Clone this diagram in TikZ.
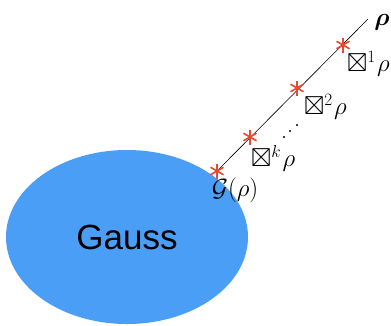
\documentclass[tikz,border=0pt]{standalone}
\usepackage{amsmath,amssymb}
\usepackage{fontspec}
\usetikzlibrary{calc}
\newfontfamily\gaussfont{Liberation Sans}
\definecolor{gblue}{RGB}{74,158,245}
\definecolor{starred}{RGB}{235,72,50}
\begin{document}
\begin{tikzpicture}[x=1pt,y=-1pt,
  star/.style={starred,line width=1.6pt},
  lab/.style={inner sep=0pt,font=\fontsize{20}{22}\selectfont},
  op/.style={inner sep=0pt,font=\fontsize{26}{28}\selectfont,anchor=west}]
\useasboundingbox (0,0) rectangle (391,325);
\fill[gblue] (127,237) ellipse [x radius=121, y radius=87];
\node[inner sep=0pt,font=\gaussfont\fontsize{35}{40}\selectfont] (gauss) at (127,237) {Gauss};
\coordinate (s0) at (217,171);
\coordinate (s1) at (250,137);
\coordinate (s2) at (297,88);
\coordinate (s3) at (343,45);
\coordinate (end) at (368,19);
\draw[line width=0.6pt] (s0) -- (end);
\foreach \s in {s0,s1,s2,s3}{
  \draw[star] ($(\s)+(0,-7.5)$) -- ($(\s)+(0,7.5)$);
  \draw[star] ($(\s)+(-6.5,-3.75)$) -- ($(\s)+(6.5,3.75)$);
  \draw[star] ($(\s)+(-6.5,3.75)$) -- ($(\s)+(6.5,-3.75)$);
}
\node[lab,font=\fontsize{34}{36}\selectfont] (rho) at (382,22) {$\boldsymbol{\rho}$};
\node[lab,font=\fontsize{29}{31}\selectfont] (G) at (235,190) {$\mathcal{G}(\rho)$};
\node[op] (o1) at (347,64) {$\boxtimes^1\mkern1mu\rho$};
\node[op] (o2) at (304,107) {$\boxtimes^2\mkern1mu\rho$};
\node[op] (ok) at (251,158) {$\boxtimes^k\mkern1mu\rho$};
\fill (284,137) circle (1.2pt);
\fill (290,131) circle (1.2pt);
\fill (297,125) circle (1.2pt);
\end{tikzpicture}
\end{document}
